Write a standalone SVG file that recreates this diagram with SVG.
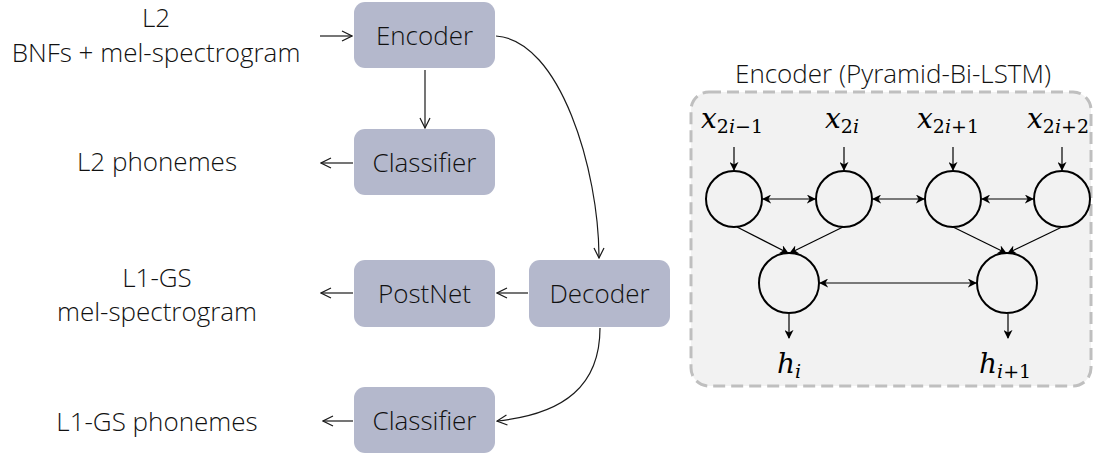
<svg xmlns="http://www.w3.org/2000/svg" width="1094" height="455" viewBox="0 0 1094 455">
  <style>
    .box { fill: #b4b8cc; }
    .lbl { font-family: "Open Sans", "Noto Sans", sans-serif; font-weight: 300; font-size: 26px; fill: #111; text-anchor: middle; }
    .line { fill: none; stroke: #1a1a1a; stroke-width: 1.2; }
    .net { fill: none; stroke: #000; stroke-width: 1.2; }
    .cell { fill: none; stroke: #000; stroke-width: 2; }
    .math { font-family: "DejaVu Serif", "Liberation Serif", serif; font-style: italic; font-size: 28px; fill: #000; }
    .sub { font-size: 19px; }
    .up { font-style: normal; }
  </style>
  <defs>
    <marker id="open" viewBox="0 0 12 12" refX="11" refY="6" markerWidth="12" markerHeight="12" markerUnits="userSpaceOnUse" orient="auto">
      <path d="M1,1 L11,6 L1,11" fill="none" stroke="#1a1a1a" stroke-width="1.2"/>
    </marker>
    <marker id="solid" viewBox="0 0 10 10" refX="9" refY="5" markerWidth="9" markerHeight="9" markerUnits="userSpaceOnUse" orient="auto-start-reverse">
      <path d="M0,0 L10,5 L0,10 L3,5 Z" fill="#000"/>
    </marker>
  </defs>

  <!-- pipeline blocks -->
  <g id="encoder"><rect class="box" x="354" y="2" width="141" height="66" rx="11"/><text class="lbl" x="424.5" y="45">Encoder</text></g>
  <g id="classifier-l2"><rect class="box" x="354" y="129" width="141" height="66" rx="11"/><text class="lbl" x="424.5" y="172">Classifier</text></g>
  <g id="postnet"><rect class="box" x="354" y="260" width="141" height="67" rx="11"/><text class="lbl" x="424.5" y="303">PostNet</text></g>
  <g id="decoder"><rect class="box" x="529" y="260" width="141" height="67" rx="11"/><text class="lbl" x="599.5" y="303">Decoder</text></g>
  <g id="classifier-l1"><rect class="box" x="354" y="387" width="141" height="66" rx="11"/><text class="lbl" x="424.5" y="430">Classifier</text></g>

  <!-- inputs and outputs -->
  <g id="in-l2"><text class="lbl" x="156" y="27">L2</text><text class="lbl" x="156" y="62">BNFs + mel-spectrogram</text></g>
  <g id="out-l2-phonemes"><text class="lbl" x="157" y="171">L2 phonemes</text></g>
  <g id="out-l1-mel"><text class="lbl" x="157" y="287">L1-GS</text><text class="lbl" x="157" y="321">mel-spectrogram</text></g>
  <g id="out-l1-phonemes"><text class="lbl" x="157" y="431">L1-GS phonemes</text></g>

  <g id="connectors">
    <path class="line" d="M320,36 H352" marker-end="url(#open)"/>
    <path class="line" d="M425,70 V128" marker-end="url(#open)"/>
    <path class="line" d="M353,163 H321" marker-end="url(#open)"/>
    <path class="line" d="M496,36 C560,40 599,170 599,258" marker-end="url(#open)"/>
    <path class="line" d="M528,293 H497" marker-end="url(#open)"/>
    <path class="line" d="M353,293 H321" marker-end="url(#open)"/>
    <path class="line" d="M600,328 C600,385 565,414 497,421" marker-end="url(#open)"/>
    <path class="line" d="M353,421 H323" marker-end="url(#open)"/>
  </g>

  <!-- pyramid Bi-LSTM detail -->
  <g id="pblstm-panel">
    <text class="lbl" x="893" y="83">Encoder (Pyramid-Bi-LSTM)</text>
    <rect x="691" y="92" width="400" height="294" rx="18" fill="#f2f2f2" stroke="#bfbfbf" stroke-width="3" stroke-dasharray="12,6"/>
  </g>

  <g id="x1"><text class="math" x="701" y="128">x<tspan class="sub up" dy="5">2</tspan><tspan class="sub">i</tspan><tspan class="sub up">−1</tspan></text></g>
  <g id="x2"><text class="math" x="825" y="128">x<tspan class="sub up" dy="5">2</tspan><tspan class="sub">i</tspan></text></g>
  <g id="x3"><text class="math" x="917" y="128">x<tspan class="sub up" dy="5">2</tspan><tspan class="sub">i</tspan><tspan class="sub up">+1</tspan></text></g>
  <g id="x4"><text class="math" x="1027" y="128">x<tspan class="sub up" dy="5">2</tspan><tspan class="sub">i</tspan><tspan class="sub up">+2</tspan></text></g>

  <g id="cell-1"><circle class="cell" cx="734" cy="199" r="28"/></g>
  <g id="cell-2"><circle class="cell" cx="844" cy="199" r="28"/></g>
  <g id="cell-3"><circle class="cell" cx="953" cy="199" r="28"/></g>
  <g id="cell-4"><circle class="cell" cx="1062" cy="199" r="28"/></g>
  <g id="cell-5"><circle class="cell" cx="789" cy="283" r="30"/></g>
  <g id="cell-6"><circle class="cell" cx="1007" cy="283" r="30"/></g>

  <g id="h1"><text class="math" x="777" y="373">h<tspan class="sub" dy="5">i</tspan></text></g>
  <g id="h2"><text class="math" x="979" y="373">h<tspan class="sub" dy="5">i</tspan><tspan class="sub up">+1</tspan></text></g>

  <g id="net-connectors">
    <path class="net" d="M734,147 V170" marker-end="url(#solid)"/>
    <path class="net" d="M844,147 V170" marker-end="url(#solid)"/>
    <path class="net" d="M953,147 V170" marker-end="url(#solid)"/>
    <path class="net" d="M1062,147 V170" marker-end="url(#solid)"/>
    <path class="net" d="M763,199 H815" marker-start="url(#solid)" marker-end="url(#solid)"/>
    <path class="net" d="M873,199 H924" marker-start="url(#solid)" marker-end="url(#solid)"/>
    <path class="net" d="M982,199 H1033" marker-start="url(#solid)" marker-end="url(#solid)"/>
    <path class="net" d="M737,227 L788,253" marker-end="url(#solid)"/>
    <path class="net" d="M843,227 L790,253" marker-end="url(#solid)"/>
    <path class="net" d="M953,227 L1006,253" marker-end="url(#solid)"/>
    <path class="net" d="M1062,227 L1008,253" marker-end="url(#solid)"/>
    <path class="net" d="M820,283 H976" marker-start="url(#solid)" marker-end="url(#solid)"/>
    <path class="net" d="M789,314 V338" marker-end="url(#solid)"/>
    <path class="net" d="M1008,314 V338" marker-end="url(#solid)"/>
  </g>
</svg>
